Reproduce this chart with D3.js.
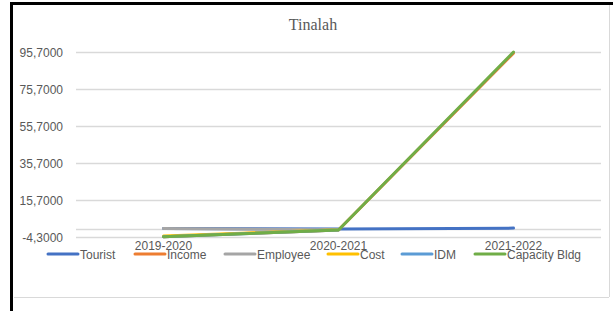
<!DOCTYPE html>
<html>
<head>
<meta charset="utf-8">
<script src="https://cdn.jsdelivr.net/npm/d3@7"></script>
<style>
  body { margin: 0; background: white; }
</style>
</head>
<body>
<div id="container"></div>
<script>
let w = 613;
let h = 311;

// data
let years = ["2019-2020", "2020-2021", "2021-2022"];
let seriesNames = ["Tourist", "Income", "Employee", "Cost", "IDM", "Capacity Bldg"];
let tourist = [0.3, 0, 0.5];
let income = [-4.1, -0.5, 95.1];
let employee = [0.3, -0.4, null];
let cost = [-3.8, -0.4, null];
let idm = [-4.2, -0.5, null];
let capacity = [-4.2, -0.5, 95.7];
let yTicks = [-4.3, 15.7, 35.7, 55.7, 75.7, 95.7];

let colors = ["#4472C4", "#ED7D31", "#A5A5A5", "#FFC000", "#5B9BD5", "#70AD47"];
let allSeries = [tourist, income, employee, cost, idm, capacity];

let viz = d3.select("#container")
  .append("svg")
    .attr("width", w)
    .attr("height", h)
    .style("display", "block")
;

// outline of the sheet / chart
viz.append("line").attr("x1", 14).attr("x2", 609).attr("y1", 297.5).attr("y2", 297.5)
  .attr("stroke", "#d9d9d9").attr("stroke-width", 1);
viz.append("line").attr("x1", 609.5).attr("x2", 609.5).attr("y1", 5).attr("y2", 297)
  .attr("stroke", "#d9d9d9").attr("stroke-width", 1);
viz.append("rect").attr("x", 10).attr("y", 2).attr("width", w - 10).attr("height", 3).attr("fill", "black");
viz.append("rect").attr("x", 10).attr("y", 2).attr("width", 3).attr("height", h).attr("fill", "black");

let x = d3.scaleBand().domain(years).range([76, 601]).padding(0);
let y = d3.scaleLinear().domain([-4.3, 95.7]).range([237, 52]);

let fmt = function(v){
  return d3.format(".4f")(v).replace(".", ",").replace("−", "-");
};

// gridlines
viz.selectAll(".grid").data(yTicks).enter()
  .append("line")
    .attr("class", "grid")
    .attr("x1", 76).attr("x2", 601)
    .attr("y1", d => Math.round(y(d)) + 0.5)
    .attr("y2", d => Math.round(y(d)) + 0.5)
    .attr("stroke", "#d9d9d9").attr("stroke-width", 1.3);

// horizontal axis line at zero
viz.append("line")
  .attr("x1", 76).attr("x2", 601)
  .attr("y1", Math.round(y(0)) + 0.5).attr("y2", Math.round(y(0)) + 0.5)
  .attr("stroke", "#d9d9d9").attr("stroke-width", 1.3);

// y labels
viz.selectAll(".ylab").data(yTicks).enter()
  .append("text")
    .attr("class", "ylab")
    .attr("x", 63)
    .attr("y", d => y(d) + 4.5)
    .attr("text-anchor", "end")
    .attr("font-family", "Liberation Sans, Arial, sans-serif")
    .attr("font-size", 12)
    .attr("fill", "#595959")
    .text(fmt);

// category labels (low position)
viz.selectAll(".xlab").data(years).enter()
  .append("text")
    .attr("class", "xlab")
    .attr("x", d => x(d) + x.bandwidth() / 2)
    .attr("y", 250)
    .attr("text-anchor", "middle")
    .attr("font-family", "Liberation Sans, Arial, sans-serif")
    .attr("font-size", 12)
    .attr("fill", "#595959")
    .text(d => d);

// title
viz.append("text")
  .attr("x", 313)
  .attr("y", 30)
  .attr("text-anchor", "middle")
  .attr("font-family", "Liberation Serif, Times New Roman, serif")
  .attr("font-size", 16)
  .attr("fill", "#595959")
  .text("Tinalah");

// lines
let line = d3.line()
  .defined(d => d[1] != null)
  .x(d => x(d[0]) + x.bandwidth() / 2)
  .y(d => y(d[1]));

allSeries.forEach(function(vals, i){
  let pts = years.map((yr, j) => [yr, vals[j]]);
  viz.append("path")
    .attr("d", line(pts))
    .attr("fill", "none")
    .attr("stroke", colors[i])
    .attr("stroke-width", 3)
    .attr("stroke-linecap", "round")
    .attr("stroke-linejoin", "round");
});

// legend
let legendX = [48, 135, 225, 328, 402, 475];
let legend = viz.selectAll(".legend").data(seriesNames).enter()
  .append("g")
    .attr("class", "legend")
    .attr("transform", (d, i) => "translate(" + legendX[i] + ",254)");
legend.append("line")
  .attr("x1", 0).attr("x2", 30)
  .attr("stroke", (d, i) => colors[i])
  .attr("stroke-width", 3)
  .attr("stroke-linecap", "round");
legend.append("text")
  .attr("x", 32)
  .attr("y", 4.5)
  .attr("font-family", "Liberation Sans, Arial, sans-serif")
  .attr("font-size", 12)
  .attr("fill", "#595959")
  .text(d => d);
</script>
</body>
</html>
